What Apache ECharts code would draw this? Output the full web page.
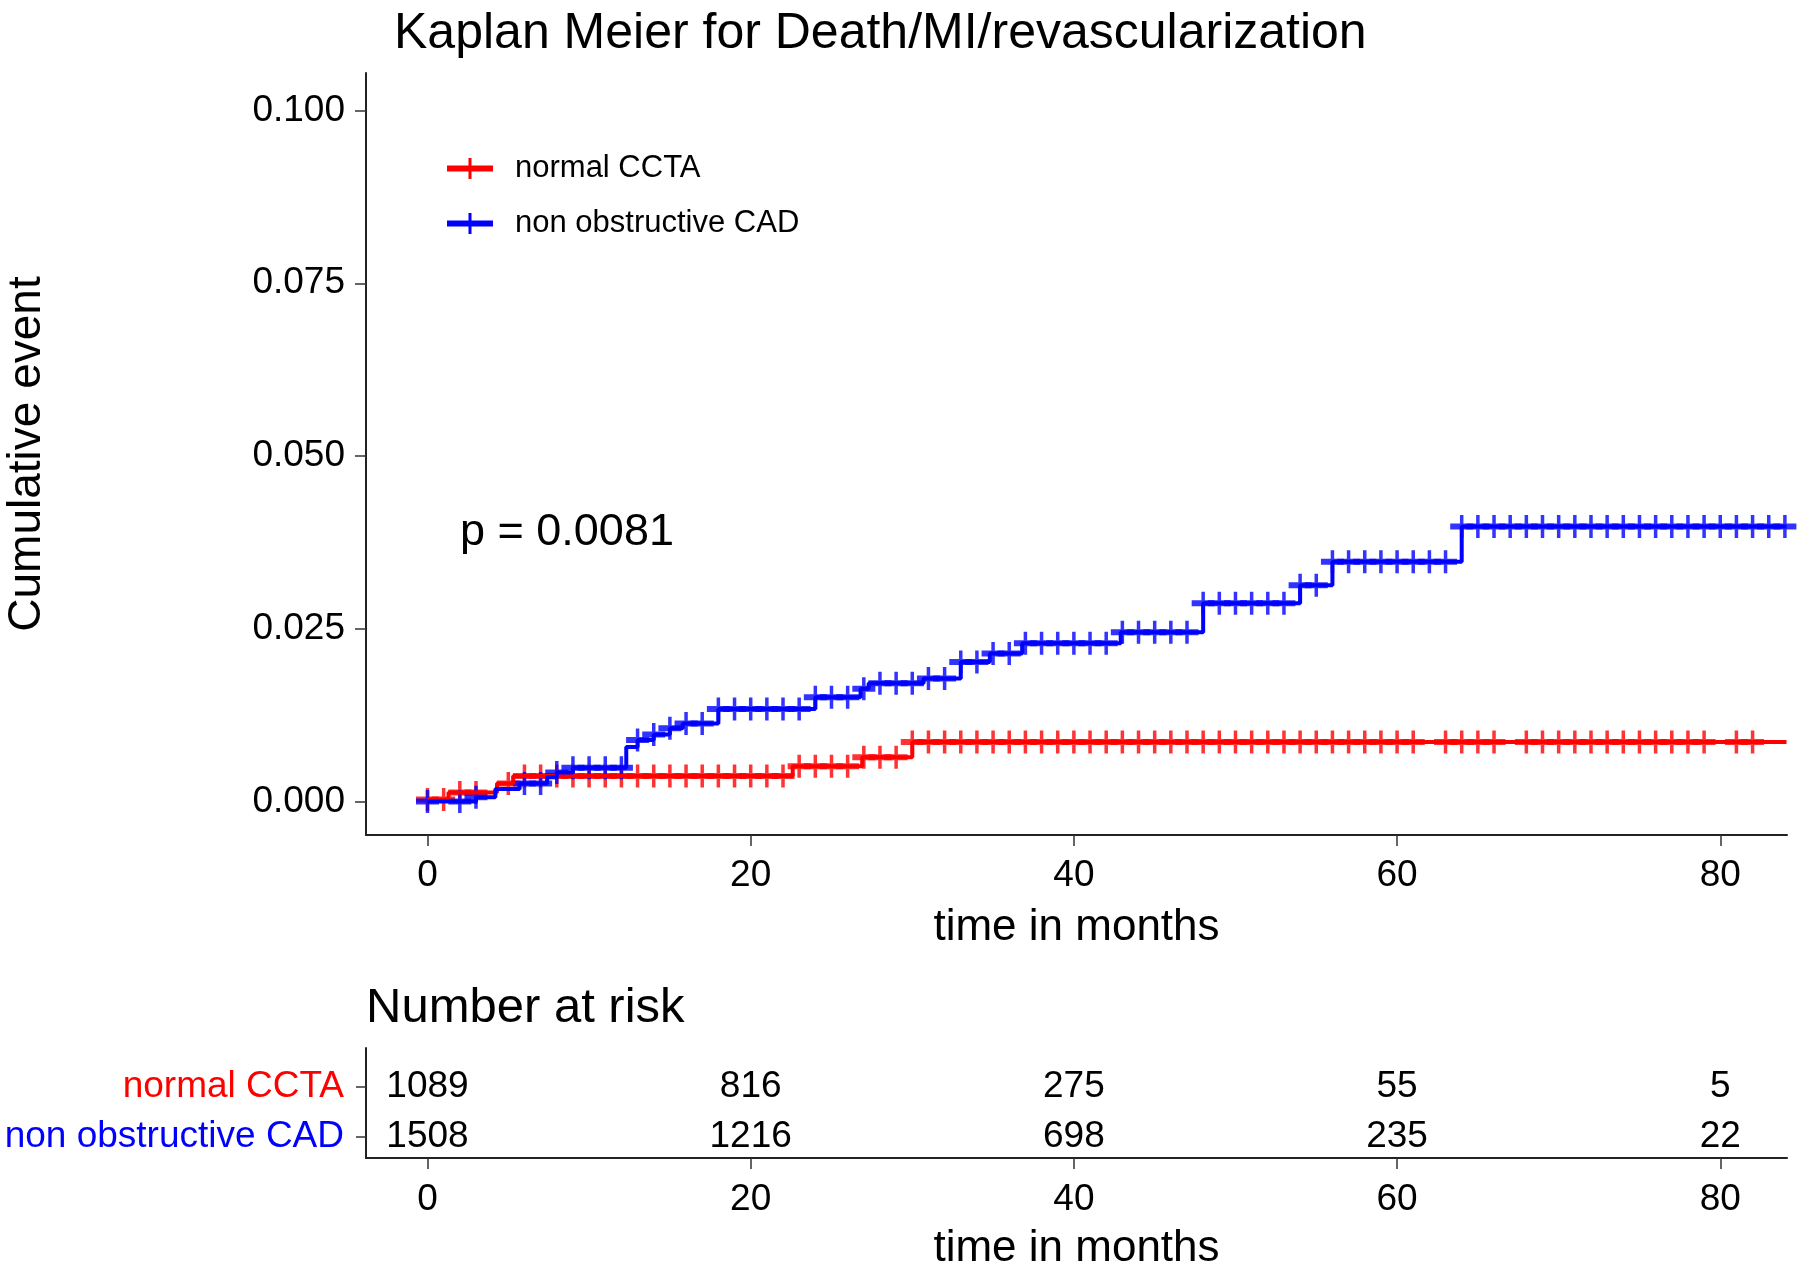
<!DOCTYPE html>
<html>
<head>
<meta charset="utf-8">
<script src="https://cdn.jsdelivr.net/npm/echarts@6/dist/echarts.min.js"></script>
<style>
  body { margin: 0; background: #fff; }
  #main { width: 1800px; height: 1269px; }
</style>
</head>
<body>
<div id="main"></div>
<script>
// cumulative event curves: time of each step (months) and value after it
const normalTimes = [0, 1.3, 4.3, 5.3, 22.6, 26.9, 30];
const normalValues = [0.0003, 0.0013, 0.0026, 0.0037, 0.0051, 0.0064, 0.0086];
const nonObsTimes = [0, 3, 4.2, 5.7, 7.4, 8, 9, 12.3, 13, 14, 15, 15.8, 18, 24, 26.8, 27.3, 30.7, 33, 34.8, 36.8, 42.9, 48, 54, 56, 64];
const nonObsValues = [0, 0.0006, 0.0018, 0.0026, 0.0035, 0.0042, 0.0049, 0.0079, 0.0089, 0.0097, 0.0106, 0.0113, 0.0134, 0.0151, 0.0163, 0.0171, 0.0178, 0.0202, 0.0214, 0.0229, 0.0245, 0.0287, 0.0313, 0.0347, 0.0398];
const lastFollowUp = 84.1;

// censoring marks (months)
const normalCensor = [0, 1, 2, 3, 5, 6, 7, 8, 9, 10, 11, 12, 13, 14, 15, 16, 17, 18, 19, 20,
  21, 22, 23, 24, 25, 26, 27, 28, 29, 30, 31, 32, 33, 34, 35, 36, 37, 38, 39, 40,
  41, 42, 43, 44, 45, 46, 47, 48, 49, 50, 51, 52, 53, 54, 55, 56, 57, 58, 59, 60,
  61, 63, 64, 65, 66, 68, 69, 70, 71, 72, 73, 74, 75, 76, 77, 78, 79, 81, 82];
const nonObsCensor = [0, 2, 3, 6, 7, 8, 9, 10, 11, 12, 13, 14, 15, 16, 17, 18, 19, 20,
  21, 22, 23, 24, 25, 26, 27, 28, 29, 30, 31, 32, 33, 34, 35, 36, 37, 38, 39, 40,
  41, 42, 43, 44, 45, 46, 47, 48, 49, 50, 51, 52, 53, 54, 55, 56, 57, 58, 59, 60,
  61, 62, 63, 64, 65, 66, 67, 68, 69, 70, 71, 72, 73, 74, 75, 76, 77, 78, 79, 80,
  81, 82, 83, 84];

// number at risk table
const riskTimes = [0, 20, 40, 60, 80];
const riskNormal = [1089, 816, 275, 55, 5];
const riskNonObs = [1508, 1216, 698, 235, 22];

const xTicks = [0, 20, 40, 60, 80];
const yTicks = [0, 0.025, 0.05, 0.075, 0.1];

const RED = '#ff0000';
const BLUE = '#0000ff';
const FONT = "'Liberation Sans', Arial, sans-serif";
const INK = '#000';

function stepAt(times, values, t) {
  let v = values[0];
  for (let i = 0; i < times.length; i++) {
    if (times[i] <= t) v = values[i];
  }
  return v;
}

function curve(times, values) {
  const pts = times.map((t, i) => [t, values[i]]);
  pts.push([lastFollowUp, values[values.length - 1]]);
  return pts;
}

function marks(censor, times, values) {
  return censor.map(t => [t, stepAt(times, values, t)]);
}

// "+" censor symbol, and legend key (line with a plus)
const plusMark = 'path://M9.75,0H13.25V8.5H23V14.5H13.25V23H9.75V14.5H0V8.5H9.75Z';
const legendKey = 'path://M0,7.5H21.5V0H24.5V7.5H46V13.5H24.5V21H21.5V13.5H0Z';

const chart = echarts.init(document.getElementById('main'));

const axisLine = { show: true, onZero: false, lineStyle: { color: '#222', width: 2 } };
const axisTick = { show: true, length: 11, lineStyle: { color: '#333', width: 1.5 } };

chart.setOption({
  animation: false,
  backgroundColor: '#fff',
  textStyle: { fontFamily: FONT },
  title: {
    text: 'Kaplan Meier for Death/MI/revascularization',
    left: 389, top: 4,
    textStyle: { fontSize: 50, fontWeight: 'normal', color: INK, fontFamily: FONT }
  },
  legend: {
    orient: 'vertical', left: 442, top: 148,
    itemWidth: 46, itemHeight: 21, itemGap: 24,
    icon: legendKey,
    data: ['normal CCTA', 'non obstructive CAD'],
    textStyle: { fontSize: 31, color: INK, padding: [0, 0, 0, 17], fontFamily: FONT }
  },
  grid: [
    { left: 366, top: 73, width: 1421, height: 762, outerBoundsMode: 'none' },
    { left: 366, top: 1048, width: 1421, height: 110, outerBoundsMode: 'none' }
  ],
  xAxis: [
    {
      type: 'value', gridIndex: 0, min: -3.806, max: 84.13,
      name: 'time in months', nameLocation: 'middle', nameGap: 70.5,
      nameTextStyle: { fontSize: 44, color: INK, fontFamily: FONT },
      axisLine: axisLine,
      axisTick: Object.assign({ customValues: xTicks }, axisTick),
      axisLabel: { customValues: xTicks, margin: 22.5, fontSize: 37, color: INK, fontFamily: FONT },
      splitLine: { show: false }
    },
    {
      type: 'value', gridIndex: 1, min: -3.806, max: 84.13,
      name: 'time in months', nameLocation: 'middle', nameGap: 69,
      nameTextStyle: { fontSize: 44, color: INK, fontFamily: FONT },
      axisLine: axisLine,
      axisTick: Object.assign({ customValues: xTicks }, axisTick),
      axisLabel: { customValues: xTicks, margin: 23.5, fontSize: 37, color: INK, fontFamily: FONT },
      splitLine: { show: false }
    }
  ],
  yAxis: [
    {
      type: 'value', gridIndex: 0, min: -0.00485, max: 0.10543,
      name: 'Cumulative event', nameLocation: 'middle', nameGap: 316, nameRotate: 90,
      nameTextStyle: { fontSize: 46, color: INK, fontFamily: FONT },
      axisLine: axisLine,
      axisTick: Object.assign({ customValues: yTicks }, axisTick),
      axisLabel: {
        customValues: yTicks, margin: 21, fontSize: 37, color: INK, fontFamily: FONT,
        formatter: v => v.toFixed(3)
      },
      splitLine: { show: false }
    },
    {
      type: 'value', gridIndex: 1, min: 0.57, max: 2.77,
      axisLine: axisLine,
      axisTick: { show: true, customValues: [1, 2], length: 10, lineStyle: { color: '#333', width: 1.5 } },
      axisLabel: {
        customValues: [1, 2], margin: 22, fontFamily: FONT,
        formatter: v => v === 2 ? '{r|normal CCTA}' : '{b|non obstructive CAD}',
        rich: {
          r: { color: RED, fontSize: 37, fontFamily: FONT },
          b: { color: BLUE, fontSize: 37, fontFamily: FONT }
        }
      },
      splitLine: { show: false }
    }
  ],
  graphic: [
    {
      type: 'text', left: 460, top: 510,
      style: { text: 'p = 0.0081', fontSize: 45, fill: INK, fontFamily: FONT }
    },
    {
      type: 'text', left: 366, top: 984,
      style: { text: 'Number at risk', fontSize: 49, fill: INK, fontFamily: FONT }
    }
  ],
  series: [
    {
      name: 'normal CCTA', type: 'line', step: 'end', showSymbol: false,
      color: RED, lineStyle: { width: 4, color: RED },
      data: curve(normalTimes, normalValues)
    },
    {
      name: 'normal CCTA', type: 'scatter', symbol: plusMark, symbolSize: [23, 23],
      itemStyle: { color: RED },
      data: marks(normalCensor, normalTimes, normalValues)
    },
    {
      name: 'non obstructive CAD', type: 'line', step: 'end', showSymbol: false,
      color: BLUE, lineStyle: { width: 4, color: BLUE },
      data: curve(nonObsTimes, nonObsValues)
    },
    {
      name: 'non obstructive CAD', type: 'scatter', symbol: plusMark, symbolSize: [23, 23],
      itemStyle: { color: BLUE },
      data: marks(nonObsCensor, nonObsTimes, nonObsValues)
    },
    {
      type: 'scatter', xAxisIndex: 1, yAxisIndex: 1, silent: true,
      symbolSize: 1, itemStyle: { color: 'rgba(0,0,0,0)' },
      label: {
        show: true, position: 'inside', fontSize: 37, color: INK, fontFamily: FONT,
        textBorderWidth: 0, opacity: 1,
        formatter: p => String(p.value[2])
      },
      data: riskTimes.map((t, i) => [t, 2, riskNormal[i]])
        .concat(riskTimes.map((t, i) => [t, 1, riskNonObs[i]]))
    }
  ]
});
</script>
</body>
</html>
